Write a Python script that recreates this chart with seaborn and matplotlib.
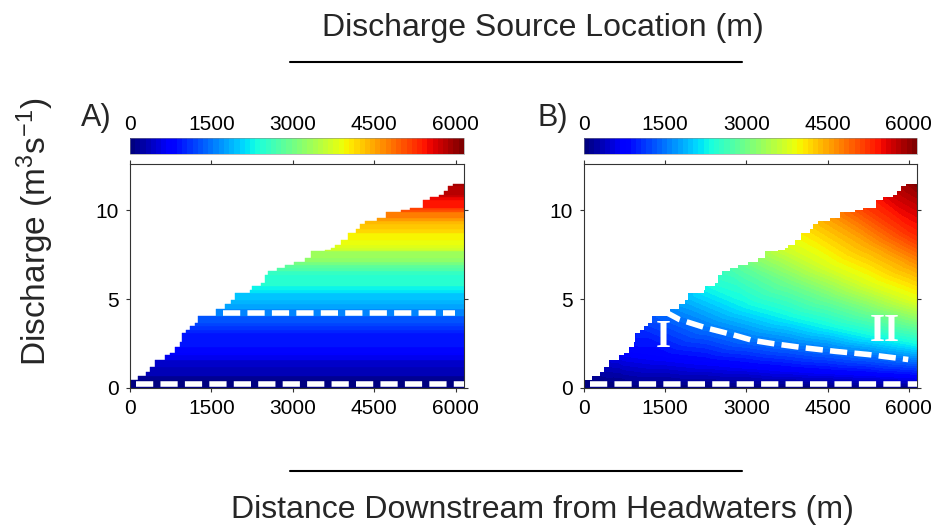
import numpy as np
import matplotlib
matplotlib.use("Agg")
import matplotlib.pyplot as plt
import matplotlib.tri as mtri
from matplotlib.colors import Normalize
from matplotlib.patches import Polygon
from matplotlib.lines import Line2D
from matplotlib.cm import ScalarMappable
import seaborn as sns

sns.set_style("ticks")
plt.rcParams["font.family"] = ["Liberation Sans", "DejaVu Sans"]
plt.rcParams["mathtext.fontset"] = "custom"
plt.rcParams["mathtext.rm"] = "Liberation Sans"
plt.rcParams["mathtext.it"] = "Liberation Sans:italic"

# staircase of discharge along the reach (x where a step starts, discharge after it)
step_x = [0, 140, 300, 370, 460, 640, 740, 830, 920, 950, 1040, 1100, 1190, 1250,
          1590, 1750, 1870, 1930, 2210, 2240, 2420, 2480, 2545, 2700, 2850, 3030,
          3220, 3340, 3590, 3710, 3770, 3895, 4010, 4170, 4230, 4330, 4550, 4720,
          5000, 5160, 5390, 5530, 5700, 5780, 5860, 5950]
step_q = [0.45, 0.70, 0.92, 1.20, 1.58, 1.86, 1.97, 2.33, 2.60, 3.10, 3.27, 3.46, 3.65, 4.05,
          4.45, 4.70, 4.96, 5.34, 5.50, 5.71, 5.90, 6.37, 6.56, 6.75, 6.94, 7.07,
          7.31, 7.69, 7.74, 7.88, 8.07, 8.35, 8.74, 8.95, 9.20, 9.38, 9.57, 9.89,
          10.02, 10.13, 10.55, 10.73, 10.88, 11.10, 11.35, 11.50]
reach_end = 6150

# panel B: height of each source-location contour at points downstream
mix_x = [1500, 2250, 3000, 3750, 4500, 5250, 6000, 6150]
mix_sources = [750, 1500, 2250, 3000, 3750, 4500, 5250, 6000]
mix_heights = [
    [1.70, 1.45, 1.25, 1.05, 0.90, 0.78, 0.65, 0.62],
    [None, 3.40, 2.80, 2.45, 2.15, 1.88, 1.60, 1.55],
    [None, None, 4.60, 3.95, 3.40, 2.90, 2.50, 2.40],
    [None, None, None, 6.00, 5.10, 4.35, 3.70, 3.60],
    [None, None, None, None, 6.80, 5.80, 4.95, 4.80],
    [None, None, None, None, None, 8.10, 6.90, 6.70],
    [None, None, None, None, None, None, 8.70, 8.45],
    [None, None, None, None, None, None, None, 11.20],
]
bed_x = [0, 750, 1500, 2250, 3000, 3750, 4500, 5250, 6000, 6150]

# dashed guide lines
base_x, base_y = [110, 6150], [0.22, 0.22]
a_level_x, a_level_y = [1718, 5980], [4.2, 4.2]
b_front_x = [1488, 1763, 2253, 2743, 3110, 3478, 4090, 4641, 5253, 5988]
b_front_y = [4.30, 3.85, 3.38, 3.00, 2.68, 2.50, 2.25, 2.06, 1.88, 1.60]

ticks = [0, 1500, 3000, 4500, 6000]
y_top = 12.6
cmap = matplotlib.colormaps["jet"].resampled(64)
norm = Normalize(0, reach_end)

fig = plt.figure(figsize=(9.41, 5.28), dpi=100)
ax_a = fig.add_axes([0.1381, 0.2652, 0.3549, 0.4242])
ax_b = fig.add_axes([0.6206, 0.2652, 0.3539, 0.4242])
cax_a = fig.add_axes([0.1381, 0.7083, 0.3549, 0.0303])
cax_b = fig.add_axes([0.6206, 0.7083, 0.3539, 0.0303])

# A) plug flow: each step's water sits as a flat band on top of the earlier water
prev = 0
for x0, q in zip(step_x, step_q):
    c = cmap(norm(x0))
    ax_a.barh(prev, reach_end - x0, height=q - prev, left=x0, align="edge",
              color=c, edgecolor=c, linewidth=0.3)
    prev = q

# B) mixed: triangulate the read contour heights and clip to the staircase
px = list(step_x) + [reach_end] + list(bed_x)
py = list(step_q) + [step_q[-1]] + [0.0] * len(bed_x)
ps = list(step_x) + [reach_end] + [0.0] * len(bed_x)
for s, row in zip(mix_sources, mix_heights):
    for x, h in zip(mix_x, row):
        if h is not None:
            px.append(x)
            py.append(h)
            ps.append(s)
px, py = np.array(px, float), np.array(py, float)
# triangulate on the axes' aspect, not raw units, so triangles aren't vertical slivers
shape = mtri.Triangulation(px / reach_end, py / y_top)
tri = mtri.Triangulation(px, py, shape.triangles)
cs = ax_b.tricontourf(tri, ps, levels=np.linspace(0, reach_end, 65), cmap=cmap, norm=norm)

verts = [(0, 0)]
for i, (x0, q) in enumerate(zip(step_x, step_q)):
    x1 = step_x[i + 1] if i + 1 < len(step_x) else reach_end
    verts += [(x0, q), (x1, q)]
verts.append((reach_end, 0))
clip = Polygon(verts, closed=True, transform=ax_b.transData)
cs.set_clip_path(clip)

dash = dict(color="white", lw=4, dashes=(3.1, 1.3), dash_capstyle="butt", zorder=5)
ax_a.plot(base_x, base_y, **dash)
ax_a.plot(a_level_x, a_level_y, **dash)
ax_b.plot(base_x, base_y, **dash)
ax_b.plot(b_front_x, b_front_y, **dash)

ax_b.text(1470, 2.85, "I", color="white", fontsize=28, fontweight="bold",
          family="Liberation Serif", ha="center", va="center", zorder=6)
ax_b.text(5560, 3.2, "II", color="white", fontsize=28, fontweight="bold",
          family="Liberation Serif", ha="center", va="center", zorder=6)

for ax in (ax_a, ax_b):
    ax.set_xlim(0, reach_end)
    ax.set_ylim(0, y_top)
    ax.set_xticks(ticks)
    ax.set_yticks([0, 5, 10])
    ax.tick_params(top=True, right=True, labeltop=False, labelright=False,
                   direction="out", length=3, width=0.8, labelsize=15, pad=5,
                   colors="#333333", labelcolor="black")
    for sp in ax.spines.values():
        sp.set_color("#333333")
        sp.set_linewidth(0.8)

for cax in (cax_a, cax_b):
    cb = fig.colorbar(ScalarMappable(norm=norm, cmap=cmap), cax=cax,
                      orientation="horizontal", ticks=ticks)
    cax.xaxis.set_ticks_position("top")
    cax.xaxis.set_label_position("top")
    cax.tick_params(labelsize=15, direction="in", length=3, width=0.6, pad=3,
                    colors="#555555", labelcolor="black")
    cb.outline.set_linewidth(0.4)
    cb.outline.set_edgecolor("#888888")

fig.text(0.102, 0.777, "A)", fontsize=22, ha="center", va="center")
fig.text(0.587, 0.777, "B)", fontsize=22, ha="center", va="center")
fig.text(0.577, 0.947, "Discharge Source Location (m)", fontsize=23, ha="center", va="center")
fig.text(0.576, 0.034, "Distance Downstream from Headwaters (m)", fontsize=23,
         ha="center", va="center")
fig.text(0.037, 0.56, r"Discharge (m$^\mathrm{3}$s$^\mathrm{-1}$)", fontsize=24,
         rotation=90, ha="center", va="center")
fig.add_artist(Line2D([0.308, 0.789], [0.8826, 0.8826], transform=fig.transFigure,
                      color="black", lw=1.5))
fig.add_artist(Line2D([0.308, 0.789], [0.108, 0.108], transform=fig.transFigure,
                      color="black", lw=1.5))

fig.savefig("out.png", dpi=100)
